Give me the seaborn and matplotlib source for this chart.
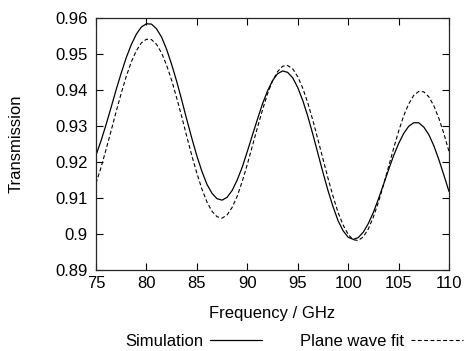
import pandas as pd
import matplotlib
matplotlib.use("Agg")
import matplotlib.pyplot as plt
import seaborn as sns

# Frequency grid (GHz) and transmission values
freq = [
    75.0, 75.5, 76.0, 76.5, 77.0, 77.5, 78.0, 78.5, 79.0, 79.5,
    80.0, 80.5, 81.0, 81.5, 82.0, 82.5, 83.0, 83.5, 84.0, 84.5,
    85.0, 85.5, 86.0, 86.5, 87.0, 87.5, 88.0, 88.5, 89.0, 89.5,
    90.0, 90.5, 91.0, 91.5, 92.0, 92.5, 93.0, 93.5, 94.0, 94.5,
    95.0, 95.5, 96.0, 96.5, 97.0, 97.5, 98.0, 98.5, 99.0, 99.5,
    100.0, 100.5, 101.0, 101.5, 102.0, 102.5, 103.0, 103.5, 104.0, 104.5,
    105.0, 105.5, 106.0, 106.5, 107.0, 107.5, 108.0, 108.5, 109.0, 109.5,
    110.0,
]

simulation = [
    0.9219, 0.9259, 0.9304, 0.9352, 0.9401, 0.9447, 0.9490, 0.9526, 0.9555, 0.9575,
    0.9584, 0.9583, 0.9570, 0.9547, 0.9513, 0.9471, 0.9424, 0.9372, 0.9318, 0.9266,
    0.9217, 0.9174, 0.9138, 0.9113, 0.9098, 0.9094, 0.9102, 0.9121, 0.9150, 0.9186,
    0.9229, 0.9274, 0.9318, 0.9361, 0.9397, 0.9426, 0.9445, 0.9453, 0.9449, 0.9434,
    0.9407, 0.9371, 0.9327, 0.9277, 0.9224, 0.9171, 0.9121, 0.9076, 0.9037, 0.9009,
    0.8991, 0.8985, 0.8990, 0.9005, 0.9029, 0.9060, 0.9097, 0.9137, 0.9178, 0.9217,
    0.9251, 0.9279, 0.9299, 0.9309, 0.9309, 0.9297, 0.9276, 0.9245, 0.9206, 0.9163,
    0.9118,
]

plane_wave_fit = [
    0.9141, 0.9185, 0.9235, 0.9287, 0.9340, 0.9391, 0.9438, 0.9478, 0.9509, 0.9531,
    0.9541, 0.9540, 0.9527, 0.9503, 0.9469, 0.9427, 0.9378, 0.9326, 0.9271, 0.9218,
    0.9169, 0.9125, 0.9089, 0.9063, 0.9048, 0.9044, 0.9053, 0.9074, 0.9105, 0.9146,
    0.9193, 0.9244, 0.9295, 0.9344, 0.9389, 0.9425, 0.9451, 0.9466, 0.9468, 0.9459,
    0.9437, 0.9405, 0.9364, 0.9316, 0.9263, 0.9209, 0.9155, 0.9105, 0.9060, 0.9025,
    0.8999, 0.8984, 0.8982, 0.8992, 0.9014, 0.9047, 0.9088, 0.9136, 0.9186, 0.9237,
    0.9285, 0.9328, 0.9361, 0.9385, 0.9396, 0.9395, 0.9381, 0.9356, 0.9321, 0.9278,
    0.9229,
]

x_ticks = [75, 80, 85, 90, 95, 100, 105, 110]
y_ticks = [0.89, 0.90, 0.91, 0.92, 0.93, 0.94, 0.95, 0.96]
y_tick_labels = ["0.89", "0.9", "0.91", "0.92", "0.93", "0.94", "0.95", "0.96"]

df = pd.DataFrame({
    "freq": freq,
    "Simulation": simulation,
    "Plane wave fit": plane_wave_fit,
})

# Style
sns.set_style("ticks")
plt.rcParams["font.family"] = ["Liberation Sans", "DejaVu Sans"]
plt.rcParams["text.color"] = "black"
plt.rcParams["axes.labelcolor"] = "black"
plt.rcParams["xtick.color"] = "black"
plt.rcParams["ytick.color"] = "black"

fs = 12

fig = plt.figure(figsize=(4.74, 3.51), dpi=100)
ax = fig.add_axes([96 / 474, 81 / 351, 353 / 474, 252 / 351])

sns.lineplot(data=df, x="freq", y="Simulation", color="black",
             linewidth=0.9, label="Simulation", ax=ax, legend=False)
sns.lineplot(data=df, x="freq", y="Plane wave fit", color="black",
             linewidth=0.8, label="Plane wave fit", ax=ax, legend=False)
ax.lines[1].set_dashes((3.5, 2.2))

ax.set_xlim(75, 110)
ax.set_ylim(0.89, 0.96)
ax.set_xticks(x_ticks)
ax.set_yticks(y_ticks)
ax.set_yticklabels(y_tick_labels)
ax.tick_params(axis="both", direction="in", top=True, right=True, length=5,
               width=0.8, labelsize=fs)
ax.tick_params(axis="x", pad=4)
ax.tick_params(axis="y", pad=6)
for s in ax.spines.values():
    s.set_linewidth(0.9)
    s.set_visible(True)

ax.set_xlabel("Frequency / GHz", fontsize=fs, labelpad=11)
ax.set_ylabel("Transmission", fontsize=fs, labelpad=23)

# Legend below the axes, gnuplot style (text before sample)
fig.legend(handles=ax.lines, labels=["Simulation", "Plane wave fit"],
           loc="center", bbox_to_anchor=(294 / 474, 1 - 341 / 351),
           ncol=2, frameon=False, markerfirst=False, fontsize=fs,
           handlelength=3.1, columnspacing=2.3, handletextpad=0.4)

plt.savefig("out.png", dpi=100)
